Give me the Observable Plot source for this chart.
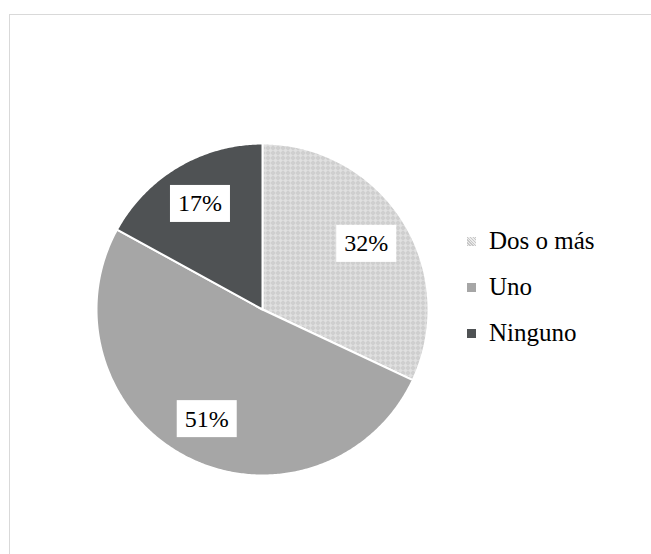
<!DOCTYPE html>
<html>
<head>
<meta charset="utf-8">
<script src="https://cdn.jsdelivr.net/npm/d3@7"></script>
<script src="https://cdn.jsdelivr.net/npm/@observablehq/plot@0.6"></script>
<style>
  html, body { margin: 0; padding: 0; background: #fff; }
  #wrap { position: relative; width: 651px; height: 554px; overflow: hidden; }
  #frame { position: absolute; left: 9px; top: 14px; width: 700px; height: 600px; border: 1.5px solid #d9d9d9; box-sizing: border-box; }
  #chart { position: absolute; left: 0; top: 0; }
  #legend { position: absolute; left: 466px; top: 226px; font-family: "Liberation Serif", "Times New Roman", serif; font-size: 25px; color: #000; }
  .row { position: absolute; left: 0; white-space: nowrap; height: 30px; line-height: 30px; }
  .sw { position: absolute; left: 1px; top: 11px; width: 9px; height: 9px; }
  .lb { position: absolute; left: 23px; top: 0; }
</style>
</head>
<body>
<div id="wrap">
  <div id="frame"></div>
  <div id="chart"></div>
  <div id="legend"></div>
</div>
<script>
const categories = ["Dos o más", "Uno", "Ninguno"];
const values = [32, 51, 17];
const labels = ["32%", "51%", "17%"];
const colors = ["url(#hatch)", "#a6a6a6", "#4f5254"];

// angles (clockwise from top) via d3.pie
const pie = d3.pie().sort(null).value(d => d.value);
const arcs = pie(categories.map((c, i) => ({cat: c, value: values[i], label: labels[i]})));

// polygon vertices in unit-circle data space
const wedges = [];
for (const a of arcs) {
  const steps = Math.max(2, Math.ceil((a.endAngle - a.startAngle) / 0.01));
  wedges.push({cat: a.data.cat, x: 0, y: 0});
  for (let k = 0; k <= steps; k++) {
    const t = a.startAngle + (a.endAngle - a.startAngle) * k / steps;
    wedges.push({cat: a.data.cat, x: Math.sin(t), y: Math.cos(t)});
  }
  wedges.push({cat: a.data.cat, x: 0, y: 0});
}
const labelR = 0.74;
const labelData = arcs.map(a => {
  const m = (a.startAngle + a.endAngle) / 2;
  return {label: a.data.label, x: labelR * Math.sin(m), y: labelR * Math.cos(m)};
});

const cx = 262, cy = 309, R = 166;
const chart = Plot.plot({
  width: 651,
  height: 554,
  margin: 0,
  x: {domain: [-1, 1], range: [cx - R, cx + R], axis: null},
  y: {domain: [-1, 1], range: [cy + R, cy - R], axis: null},
  color: {domain: categories, range: colors},
  marks: [
    Plot.line(wedges, {x: "x", y: "y", z: "cat", fill: "cat", stroke: "#fff", strokeWidth: 2, strokeLinejoin: "round", curve: "linear"}),
    Plot.text(labelData, {x: "x", y: "y", text: "label", fontSize: 24, fontFamily: "'Liberation Serif', 'Times New Roman', serif", fill: "#000"})
  ],
  style: {background: "transparent", overflow: "visible"}
});
document.getElementById("chart").appendChild(chart);

// pattern definition for "Dos o más"
const svg = d3.select(chart);
const defs = svg.insert("defs", ":first-child");
const pat = defs.append("pattern").attr("id", "hatch").attr("patternUnits", "userSpaceOnUse").attr("width", 5).attr("height", 5);
pat.append("rect").attr("width", 5).attr("height", 5).attr("fill", "#e0e0e0");
pat.append("path").attr("d", "M2.5 0.5 L4.5 2.5 L2.5 4.5 L0.5 2.5 Z").attr("fill", "#b8b8b8");
pat.append("rect").attr("x", 2).attr("y", 2).attr("width", 1).attr("height", 1).attr("fill", "#ffffff");

// white boxes behind percentage labels
svg.selectAll("text").each(function() {
  const b = this.getBBox();
  const g = this.parentNode;
  const padX = 8, h = 37;
  d3.select(g).insert("rect", () => this)
    .attr("x", b.x - padX).attr("y", b.y + b.height / 2 - h / 2)
    .attr("width", b.width + 2 * padX).attr("height", h)
    .attr("fill", "#fff").attr("transform", this.getAttribute("transform"));
});

// legend
const legend = d3.select("#legend");
categories.forEach((c, i) => {
  const row = legend.append("div").attr("class", "row").style("top", (i * 46) + "px");
  const sw = row.append("div").attr("class", "sw");
  if (i === 0) {
    sw.style("background", "repeating-linear-gradient(45deg, #c8c8c8 0 1px, #ececec 1px 2px)");
  } else {
    sw.style("background", colors[i]);
  }
  row.append("div").attr("class", "lb").text(c);
});
</script>
</body>
</html>
